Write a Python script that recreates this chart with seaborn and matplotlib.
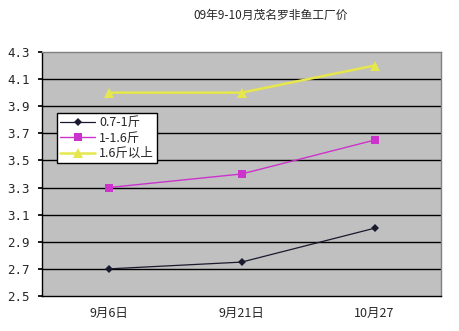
import matplotlib
matplotlib.use("Agg")
import matplotlib.pyplot as plt
import seaborn as sns
import pandas as pd

dates = ["9月6日", "9月21日", "10月27"]
series_names = ["0.7-1斤", "1-1.6斤", "1.6斤以上"]
small = [2.7, 2.75, 3.0]
medium = [3.3, 3.4, 3.65]
large = [4.0, 4.0, 4.2]
yticks = [2.5, 2.7, 2.9, 3.1, 3.3, 3.5, 3.7, 3.9, 4.1, 4.3]

sns.set_theme(style="white")
plt.rcParams['font.family'] = ['Noto Sans CJK SC', 'DejaVu Sans']

fig = plt.figure(figsize=(4.59, 3.31), dpi=100)
fig.patch.set_facecolor("white")
ax = fig.add_axes([42/459, 35/331, 399/459, 244/331])
ax.set_facecolor("#C0C0C0")

styles = [
    ("#1a1a2e", "D", 4.5, 0.9),
    ("#CC33CC", "s", 5.5, 1.0),
    ("#E6E64D", "^", 6.5, 1.8),
]
for name, vals, (c, m, ms, lw) in zip(series_names, [small, medium, large], styles):
    d = pd.DataFrame({"x": range(len(dates)), "price": vals})
    sns.lineplot(data=d, x="x", y="price", color=c, marker=m, markersize=ms,
                 markeredgewidth=0, lw=lw, ax=ax, label=name)

for y in yticks[1:-1]:
    ax.axhline(y, color="black", lw=1, zorder=0.5)

ax.set_xlim(-0.5, 2.5)
ax.set_ylim(2.5, 4.3)
ax.set_yticks(yticks)
ax.set_yticklabels([f"{v:.1f}" for v in yticks], family="DejaVu Sans Mono", fontsize=9)
ax.set_xticks(range(3))
ax.set_xticklabels(dates, fontsize=9)
ax.set_xticks([0.5, 1.5], minor=True)
ax.tick_params(axis="x", which="major", length=0, pad=8)
ax.tick_params(axis="x", which="minor", length=4, direction="in", color="black")
ax.tick_params(axis="y", which="major", length=3, direction="out", color="black", pad=6, left=True)
ax.set_xlabel("")
ax.set_ylabel("")

for s in ["left", "bottom"]:
    ax.spines[s].set_color("black")
    ax.spines[s].set_linewidth(1)
for s in ["top", "right"]:
    ax.spines[s].set_color("#808080")
    ax.spines[s].set_linewidth(1)

leg = ax.legend(loc="upper left", bbox_to_anchor=((57-42)/399, (296-113)/244),
                frameon=True, fancybox=False, framealpha=1, edgecolor="black",
                fontsize=9, handlelength=2.8, borderpad=0.25, labelspacing=0.2,
                handletextpad=0.3, borderaxespad=0)
leg.get_frame().set_linewidth(1)

fig.text(271/459, 1 - 15/331, "09年9-10月茂名罗非鱼工厂价", ha="center", va="center", fontsize=8.5)

fig.savefig("out.png", dpi=100)
